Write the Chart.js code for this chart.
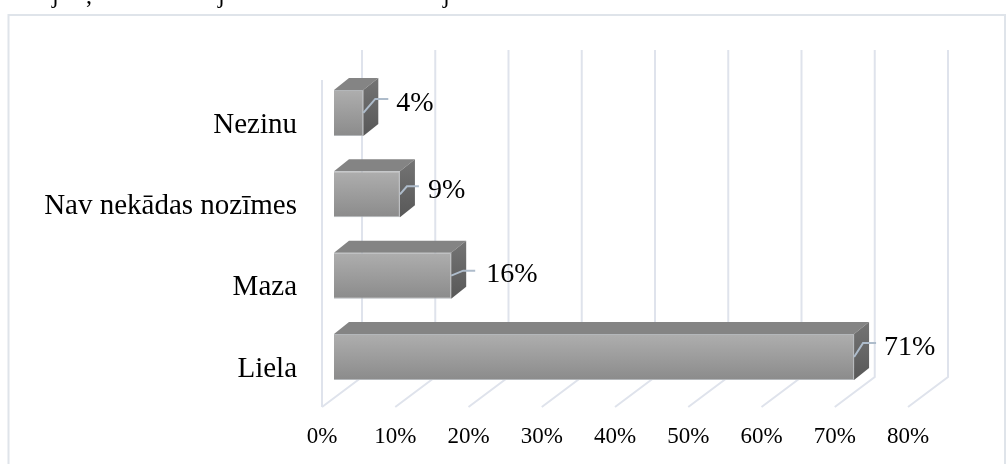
<!DOCTYPE html>
<html><head><meta charset="utf-8">
<script src="https://cdn.jsdelivr.net/npm/chart.js@4/dist/chart.umd.min.js"></script>
<style>
html,body{margin:0;padding:0;background:#fff;width:1006px;height:464px;overflow:hidden}
#wrap{position:relative;width:1006px;height:464px}
canvas{position:absolute;left:0;top:0}
.cut{position:absolute;top:-17px;font:24px "Liberation Serif",serif;color:#000;line-height:24px}
</style></head>
<body><div id="wrap">
<canvas id="c" width="1006" height="464"></canvas>
<span class="cut" style="left:52px">j</span><span class="cut" style="left:86px">,</span><span class="cut" style="left:218px">j</span><span class="cut" style="left:443px">j</span>
</div>
<script>
const categories = ["Nezinu", "Nav nekādas nozīmes", "Maza", "Liela"];
const values = [4, 9, 16, 71];
// leader-line and data-label placement relative to each bar's end
const leaderBend = [12, 7, 12, 9];
const leaderRise = [14, 8, 5, 14];
const leaderReach = [25, 19, 24, 22];
const labelGap = [33, 28, 35, 30];
const labelRise = [9, 4, 1.5, 9];
const SERIF = '"Liberation Serif", serif';
const GRID = '#dfe3ec', LEAD = '#aebccb';
const DEPTH_X = 15, DEPTH_Y = 12, AXIS_SHIFT = 12, WALL_X = 40, WALL_Y = 30, BAR_H = 46;

const scene = {
  id: 'scene',
  beforeDraw(chart) {
    const c = chart.ctx;
    c.save(); c.strokeStyle = '#dfe4ea'; c.lineWidth = 2;
    c.beginPath(); c.moveTo(8.5, 464); c.lineTo(8.5, 15); c.lineTo(1005, 15); c.lineTo(1005, 464); c.stroke();
    c.restore();
  },
  beforeDatasetsDraw(chart) {
    const c = chart.ctx, sx = chart.scales.x;
    const floorY = 407, topBack = 50, topFront = 80;
    c.save(); c.strokeStyle = GRID; c.lineWidth = 2;
    sx.ticks.forEach(t => {
      const x = sx.getPixelForValue(t.value) - AXIS_SHIFT;
      c.beginPath(); c.moveTo(x, floorY); c.lineTo(x + WALL_X, floorY - WALL_Y); c.lineTo(x + WALL_X, topBack); c.stroke();
      if (t.value === 0) { c.beginPath(); c.moveTo(x, floorY); c.lineTo(x, topFront); c.stroke(); }
    });
    // extruded faces
    chart.getDatasetMeta(0).data.forEach(b => {
      const top = b.y - b.height / 2, bot = b.y + b.height / 2, r = b.x, l = b.base;
      c.fillStyle = '#848484';
      c.beginPath(); c.moveTo(l, top); c.lineTo(l + DEPTH_X, top - DEPTH_Y); c.lineTo(r + DEPTH_X, top - DEPTH_Y); c.lineTo(r, top); c.closePath(); c.fill();
      const g = c.createLinearGradient(0, top - DEPTH_Y, 0, bot);
      g.addColorStop(0, '#747474'); g.addColorStop(1, '#585858');
      c.fillStyle = g;
      c.beginPath(); c.moveTo(r, top); c.lineTo(r + DEPTH_X, top - DEPTH_Y); c.lineTo(r + DEPTH_X, bot - DEPTH_Y); c.lineTo(r, bot); c.closePath(); c.fill();
    });
    c.restore();
  },
  afterDatasetsDraw(chart) {
    const c = chart.ctx;
    c.save();
    chart.getDatasetMeta(0).data.forEach((b, i) => {
      const y2 = b.y - leaderRise[i];
      c.strokeStyle = LEAD; c.lineWidth = 2;
      c.beginPath(); c.moveTo(b.x, b.y); c.lineTo(b.x + leaderBend[i], y2); c.lineTo(b.x + leaderReach[i], y2); c.stroke();
      c.fillStyle = '#000'; c.font = '28px ' + SERIF; c.textAlign = 'left'; c.textBaseline = 'middle';
      c.fillText(values[i] + '%', b.x + labelGap[i], b.y - labelRise[i]);
    });
    c.restore();
  }
};

new Chart(document.getElementById('c'), {
  type: 'bar',
  plugins: [scene],
  data: {
    labels: categories,
    datasets: [{
      data: values,
      barPercentage: BAR_H / 81.5,
      categoryPercentage: 1,
      borderWidth: 1,
      borderColor: '#b4b7ba',
      backgroundColor(ctx) {
        const chart = ctx.chart, sy = chart.scales.y;
        if (!chart.chartArea || !sy || ctx.dataIndex === undefined) return '#9c9c9c';
        const cy = sy.getPixelForValue(ctx.dataIndex);
        if (!isFinite(cy)) return '#9c9c9c';
        const g = chart.ctx.createLinearGradient(0, cy - BAR_H / 2, 0, cy + BAR_H / 2);
        g.addColorStop(0, '#aeaeae'); g.addColorStop(1, '#8b8b8b');
        return g;
      }
    }]
  },
  options: {
    indexAxis: 'y',
    responsive: false,
    animation: false,
    layout: { padding: { top: 72.25, right: 86, left: 0, bottom: 0 } },
    plugins: { legend: { display: false }, tooltip: { enabled: false }, title: { display: false } },
    scales: {
      x: {
        min: 0, max: 80,
        grid: { display: false }, border: { display: false },
        afterFit(s) { s.height = 66.25; },
        ticks: { stepSize: 10, padding: 17, maxRotation: 0, autoSkip: false, labelOffset: -AXIS_SHIFT, color: '#000',
          font: { family: SERIF, size: 23 }, callback: v => v + '%' }
      },
      y: {
        grid: { display: false }, border: { display: false },
        afterFit(s) { s.width = 334; },
        ticks: { padding: 29, labelOffset: 12, color: '#000', autoSkip: false, font: { family: SERIF, size: 29 } }
      }
    }
  }
});
</script>
</body></html>
